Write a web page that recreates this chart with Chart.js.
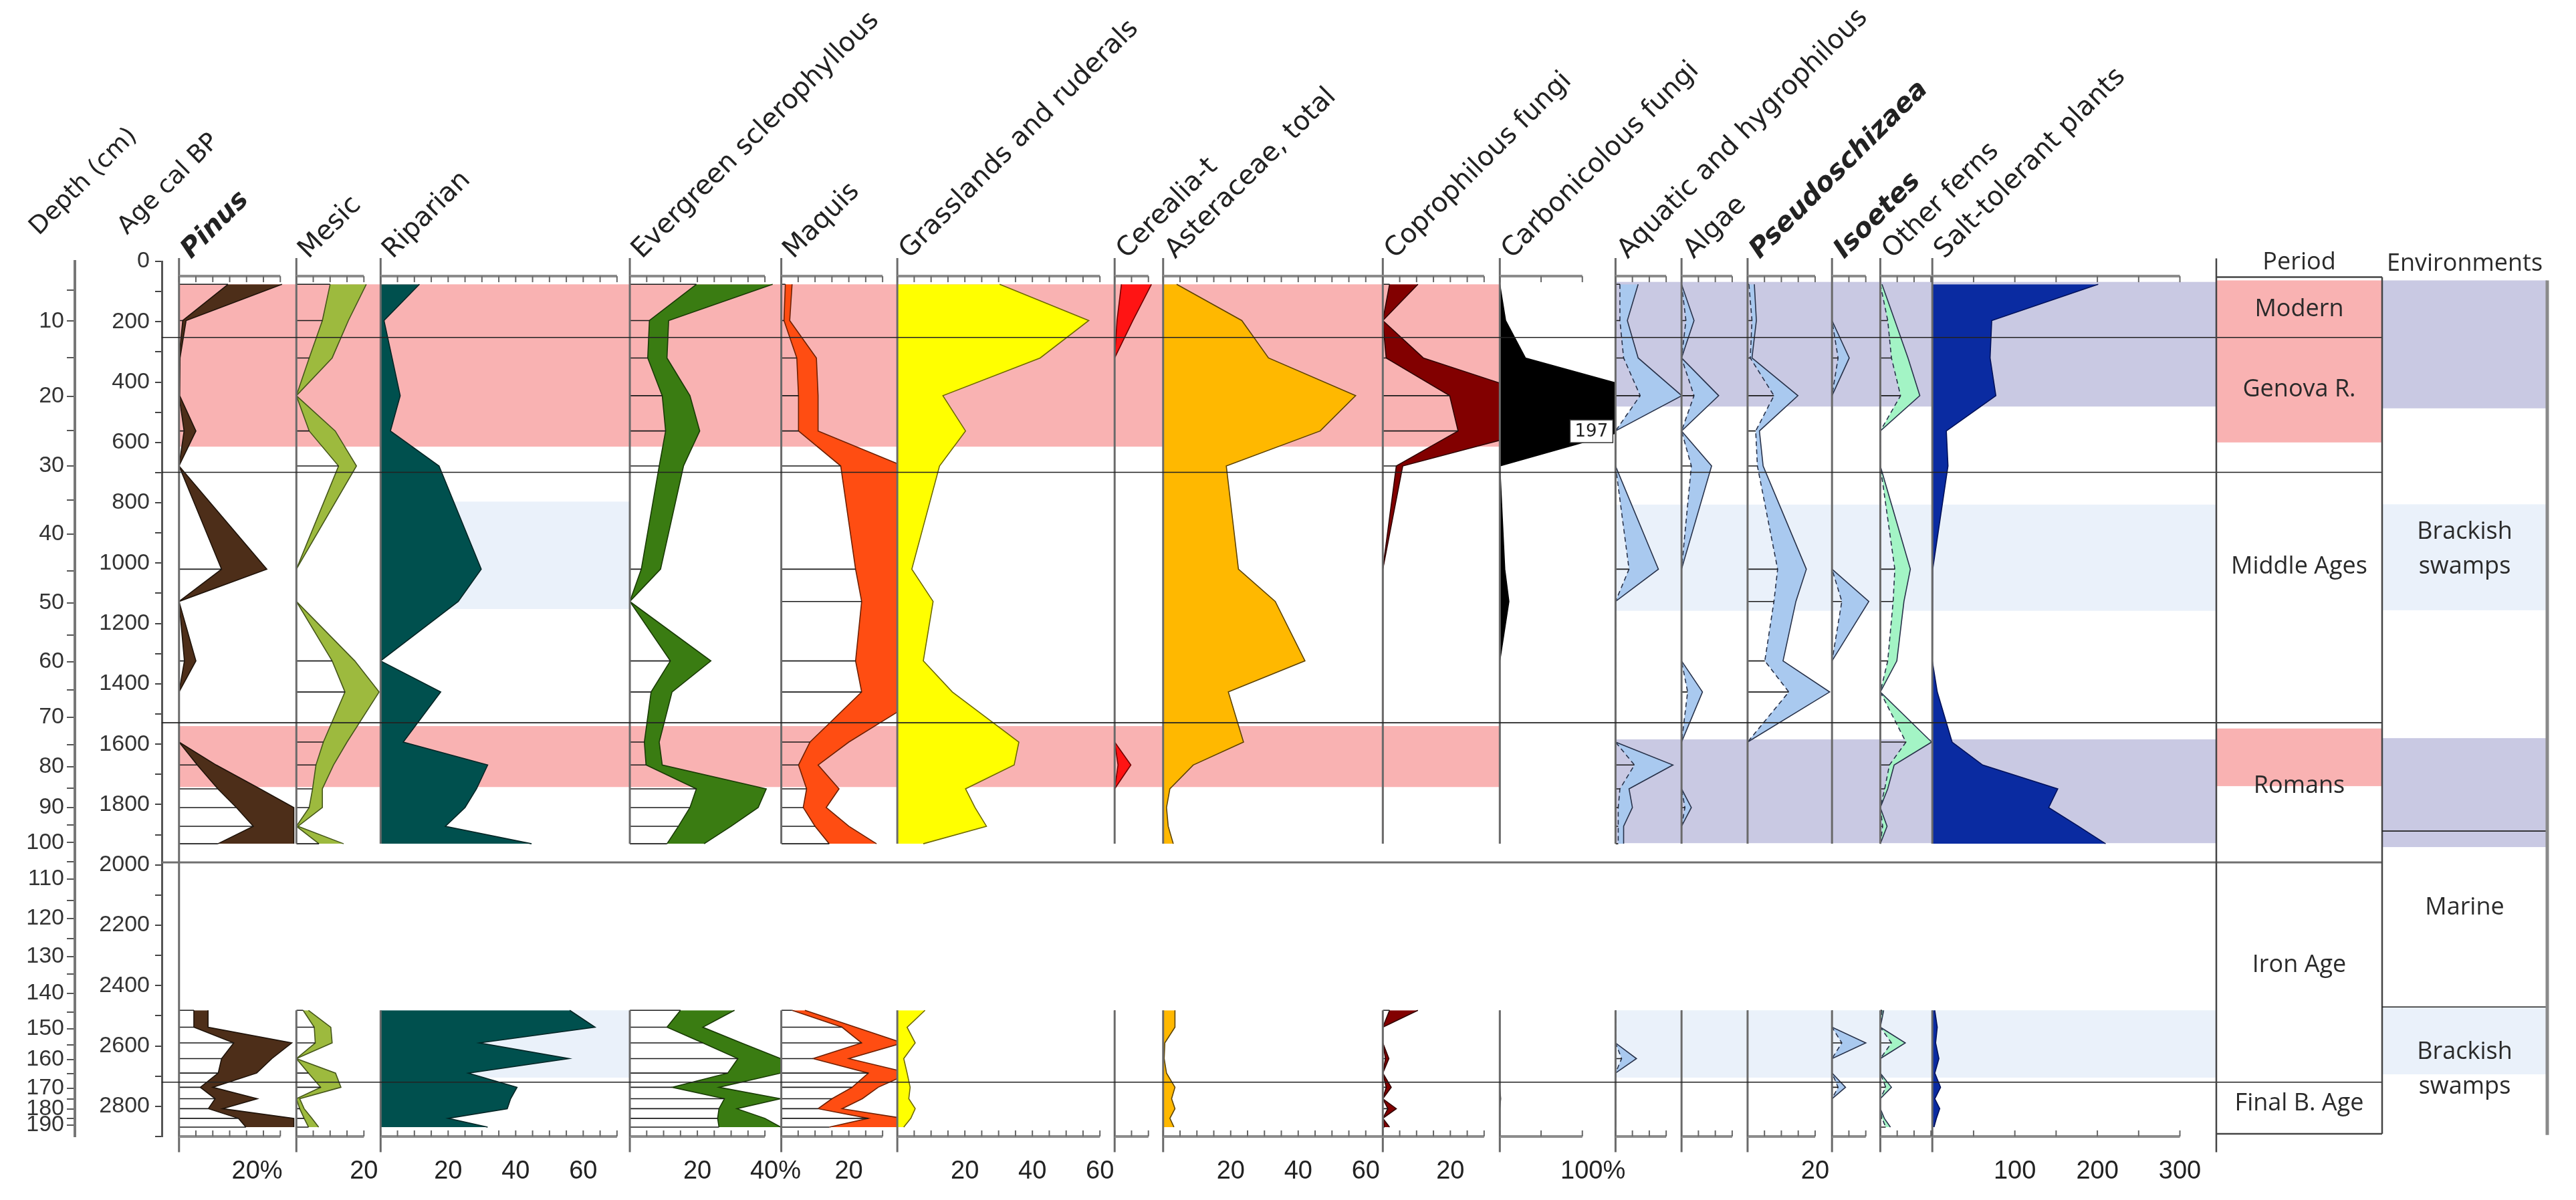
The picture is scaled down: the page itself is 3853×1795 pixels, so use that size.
<!DOCTYPE html>
<html>
<head>
<meta charset="utf-8">
<script src="https://cdn.jsdelivr.net/npm/chart.js@4.4.1/dist/chart.umd.min.js"></script>
<style>
  html, body { margin: 0; padding: 0; background: #fff; }
  #wrap { width: 3853px; height: 1795px; position: relative; }
</style>
</head>
<body>
<div id="wrap"><canvas id="pollen" width="3853" height="1795"></canvas></div>
<script>
// Sample ages (cal BP): upper section, then lower section
const upperAges = [76, 196, 320, 445, 562, 678, 1020, 1127, 1324, 1427, 1593, 1669, 1748, 1810, 1872, 1930];
const lowerAges = [2482, 2538, 2590, 2642, 2690, 2737, 2775, 2808, 2840, 2869];

// Values: 16 upper samples followed by 10 lower samples
const pinusInner = [14.5, 1.1, 0, 0, 1.5, 0, 12.6, 0, 1.6, 0, 0, 5.4, 11.5, 17, 22, 11.5, 4.4, 4.4, 16.2, 12.6, 11.6, 6.3, 10.7, 8.7, 17.6, 19.8];
const pinusOuter = [30.5, 2.1, 0.3, 0.2, 5, 0, 26, 0, 5, 0, 0, 11, 24, 34, 34, 34, 8.6, 8.6, 33.4, 27.5, 23, 10, 23.2, 12.9, 34, 34];
const mesicInner = [10, 7.7, 3.8, 0, 3.8, 12.5, 0, 0, 10.6, 14.4, 8, 5.8, 4.8, 3.8, 0, 6.7, 2, 5.3, 5.6, 0, 3.6, 7.2, 0, 1, 2.3, 3.6];
const mesicOuter = [20.7, 15.4, 10.6, 0, 11.5, 17.8, 0, 0, 17.3, 24.5, 15, 11, 7.7, 7.7, 0.5, 14, 3.6, 10.2, 10.6, 0, 11.6, 13.2, 1, 2.3, 4.6, 6.6];
const riparian = [11.5, 1, 3.4, 5.8, 2.9, 17.3, 29.8, 23, 0, 17.8, 6.7, 31.7, 28.4, 25, 19.2, 44.7, 56, 63.5, 29.3, 55.8, 26, 40.4, 38.5, 37.5, 20, 31.7];
const evergreenInner = [19.7, 5.8, 5.3, 9.6, 10.6, 8.7, 3.4, 0, 12, 6.3, 4.3, 4.8, 19.7, 17.8, 14.4, 11, 15, 11, 21.6, 32, 29, 12.5, 28, 26.4, 26, 26.4];
const evergreenOuter = [42.3, 11.5, 11, 17.8, 20.7, 15.9, 9.1, 0, 24, 12.5, 8.7, 9.6, 40.4, 38, 30, 22, 31, 21.6, 33, 44.7, 44.7, 26.4, 44.7, 31.7, 40, 44.7];
const maquisInner = [1.2, 0.8, 4.6, 5.1, 5.1, 17.6, 22, 23.8, 22, 23.8, 8.5, 5.1, 7.5, 6.5, 10, 14.2, 3.2, 18, 23.8, 9.4, 25.8, 21, 15, 10.9, 25.8, 14.2];
const maquisOuter = [3.2, 2.5, 10.4, 10.9, 10.9, 36, 40, 44, 40, 44, 20, 10.9, 17.1, 13.3, 20, 28.2, 7, 22, 36, 20, 38, 28.7, 24, 18, 36, 40];
const grasslands = [30.3, 56.7, 42.3, 13.5, 20.2, 12.5, 4.3, 10.6, 7.7, 16.3, 36, 34.6, 20.2, 23, 26.4, 7.7, 8.2, 2.9, 5.3, 1.9, 2.9, 3.8, 3.4, 5.3, 4, 1.9];
const cerealiaInner = [2, 0.7, 0, 0, 0, 0, 0, 0, 0, 0, 0, 1, 0, 0, 0, 0, 0, 0, 0, 0, 0, 0, 0, 0, 0, 0];
const cerealiaOuter = [10.9, 5.4, 0, 0, 0, 0, 0, 0, 0, 0, 0, 4.8, 0, 0, 0, 0, 0, 0, 0, 0, 0, 0, 0, 0, 0, 0];
const asteraceae = [4, 23.3, 31.2, 57, 46.5, 18.7, 22.3, 33.2, 42, 19.3, 23.8, 8.9, 2, 1, 1.5, 3, 3.5, 3.5, 0.5, 0.3, 1, 3.5, 2.5, 3.5, 2, 3.2];
const coproInner = [2, 0, 1, 19.8, 22.3, 4, 0, 0, 0, 0, 0, 0, 0, 0, 0, 0, 2, 0, 0, 0.8, 0, 1, 0, 1.5, 0, 0.5];
const coproOuter = [10.4, 0, 12, 46, 45, 5.9, 0, 0, 0, 0, 0, 0, 0, 0, 0, 0, 10.4, 0, 0, 1.8, 0, 2.5, 0, 4, 0, 2];
const carbonicolous = [0, 7, 31, 197, 150, 0, 6, 11, 0, 0, 0, 0, 0, 0, 0, 0, 0, 0, 0, 0, 0, 0, 1, 0, 0, 0];
const aquaticInner = [1.3, 1.3, 2.4, 7.3, 0, 0, 4, 0, 0, 0, 0, 5.6, 1.3, 0.8, 0.8, 0.8, 0, 0, 0, 1.8, 0, 0, 0, 0, 0, 0];
const aquaticOuter = [6.7, 3.5, 6.7, 19.6, 0, 0, 12.7, 0, 0, 0, 0, 17, 4, 5, 2.4, 2.4, 0, 0, 0, 6.2, 0, 0, 0, 0, 0, 0];
const algaeInner = [0, 1.3, 0, 3.7, 0, 2.9, 0, 0, 0, 1.8, 0, 0, 0, 1, 0, 0, 0, 0, 0, 0, 0, 0, 0, 0, 0, 0];
const algaeOuter = [0, 3.7, 0, 11, 0, 8.9, 0, 0, 0, 6.2, 0, 0, 0, 2.9, 0, 0, 0, 0, 0, 0, 0, 0, 0, 0, 0, 0];
const pseudoInner = [0.4, 1.3, 0.8, 7.8, 2.4, 2.9, 8.9, 7.8, 5.1, 12.2, 0, 0, 0, 0, 0, 0, 0, 0, 0, 0, 0, 0, 0, 0, 0, 0];
const pseudoOuter = [2, 2.6, 1.3, 14.9, 3.5, 4.6, 17.4, 14.3, 10.5, 24.3, 0, 0, 0, 0, 0, 0, 0, 0, 0, 0, 0, 0, 0, 0, 0, 0];
const isoetesInner = [0, 0, 1.8, 0, 0, 0, 0, 2.9, 0, 0, 0, 0, 0, 0, 0, 0, 0, 0, 2.9, 0, 0, 1.8, 0, 0, 0, 0];
const isoetesOuter = [0, 0, 5.1, 0, 0, 0, 0, 10.9, 0, 0, 0, 0, 0, 0, 0, 0, 0, 0, 10, 0, 0, 4, 0, 0, 0, 0];
const fernsInner = [0, 2.2, 3.3, 6, 0, 0, 4.3, 3.8, 2.2, 0, 7.6, 2.7, 1.3, 0, 0.7, 0, 0.5, 0, 3.3, 0, 0, 1.6, 0, 0, 0.5, 1.6];
const fernsOuter = [0.5, 4.3, 8.2, 11.7, 0, 0, 8.9, 7, 4.9, 0, 15.2, 4.1, 2.2, 0, 2, 0, 1, 0, 7.4, 0, 0, 3.3, 0, 0, 1.2, 3];
const saltTolerant = [201, 72, 70, 77, 17, 19, 0.5, 0, 0, 6, 24, 61, 152, 141, 177, 210, 3, 6, 4, 8, 3, 10, 3, 9, 5, 2];
const carbonPeak = { text: '197', age: 563 };

// Depth scale (cm) against age
const depthLabels = [10, 20, 30, 40, 50, 60, 70, 80, 90, 100, 110, 120, 130, 140, 150, 160, 170, 180, 190];
const depthAges = [198, 447, 677, 904, 1132, 1326, 1511, 1674, 1809, 1926, 2047, 2177, 2304, 2426, 2543, 2645, 2740, 2809, 2862];
const depthMinorAges = [96, 319, 560, 791, 1025, 1238, 1421, 1602, 1745, 1868, 1989, 2117, 2245, 2362, 2489, 2596, 2691, 2777, 2840];

// Zones
const pinkBands = [[76, 614], [1540, 1742]];
const lavenderBands = [[68, 481], [1584, 1928]];
const paleBlueBands = [[806, 1158], [2482, 2705]];
const riparianBlueBands = [[796, 1152], [2482, 2705]];
const periodBounds = [252, 699, 1529, 1992, 2720];
const periodPink = [[63, 600], [1548, 1739]];
const periodNames = ['Modern', 'Genova R.', 'Middle Ages', 'Romans', 'Iron Age', 'Final B. Age'];
const periodLabelAges = [158, 424, 1011, 1739, 2333, 2790];
const envBounds = [1888, 2471];
const envLavender = [[63, 487], [1580, 1941]];
const envPaleBlue = [[805, 1156], [2471, 2694]];
const envNames = [['Brackish', 'swamps'], ['Marine'], ['Brackish', 'swamps']];
const envLabelAges = [954, 2142, 2677];

const PINK = '#f9b2b2', LAVENDER = '#c9c9e3', PALEBLUE = '#eaf1fa';
const PERIOD_X0 = 3315, PERIOD_X1 = 3563, ENV_X1 = 3810;
const AGE_MAX = 2900, AXIS_END = 2952, RULER_TOP = 49;
const FEW = 0.2444; // carbonicolous and salt-tolerant drawn at a compressed scale

const panels = [
  { id: 'pinus', name: 'Pinus', em: true, max: 34.75, step: 5, labels: { 20: '   20%' }, inner: pinusInner, outer: pinusOuter, color: '#4d2e19', edge: '#1e1209', bars: true },
  { id: 'mesic', name: 'Mesic', max: 24.95, step: 5, labels: { 20: '20' }, inner: mesicInner, outer: mesicOuter, color: '#9dba3e', edge: '#45561a', bars: true },
  { id: 'riparian', name: 'Riparian', max: 73.8, step: 5, labels: { 20: '20', 40: '40', 60: '60' }, outer: riparian, color: '#00504e', edge: '#002424' },
  { id: 'evergreen', name: 'Evergreen sclerophyllous', max: 44.85, step: 5, labels: { 20: '20', 40: '   40%' }, inner: evergreenInner, outer: evergreenOuter, color: '#3a7c12', edge: '#183a05', bars: true },
  { id: 'maquis', name: 'Maquis', max: 34.36, step: 5, labels: { 20: '20' }, inner: maquisInner, outer: maquisOuter, color: '#ff4d12', edge: '#6e2004', bars: true },
  { id: 'grass', name: 'Grasslands and ruderals', max: 64.36, step: 5, labels: { 20: '20', 40: '40', 60: '60' }, outer: grasslands, color: '#ffff00', edge: '#6e6a00' },
  { id: 'cerealia', name: 'Cerealia-t', max: 14.36, step: 5, labels: {}, inner: cerealiaInner, outer: cerealiaOuter, color: '#ff1414', edge: '#700000' },
  { id: 'aster', name: 'Asteraceae, total', max: 65.05, step: 5, labels: { 20: '20', 40: '40', 60: '60' }, outer: asteraceae, color: '#ffb800', edge: '#5e4300' },
  { id: 'copro', name: 'Coprophilous fungi', max: 34.65, step: 5, labels: { 20: '20' }, inner: coproInner, outer: coproOuter, color: '#820000', edge: '#300000', bars: true },
  { id: 'carbon', name: 'Carbonicolous fungi', max: 140.2, step: 50, unit: FEW, labels: { 100: '   100%' }, outer: carbonicolous, color: '#000000', edge: '#000000' },
  { id: 'aquatic', name: 'Aquatic and hygrophilous', max: 19.55, step: 5, labels: {}, inner: aquaticInner, outer: aquaticOuter, color: '#a9c9ef', edge: '#28324a', bars: true, dashed: true },
  { id: 'algae', name: 'Algae', max: 19.56, step: 5, labels: {}, inner: algaeInner, outer: algaeOuter, color: '#a9c9ef', edge: '#28324a', bars: true, dashed: true },
  { id: 'pseudo', name: 'Pseudoschizaea', em: true, max: 25, step: 5, labels: { 20: '20' }, inner: pseudoInner, outer: pseudoOuter, color: '#a9c9ef', edge: '#28324a', bars: true, dashed: true },
  { id: 'isoetes', name: 'Isoetes', em: true, max: 14.3, step: 5, labels: {}, inner: isoetesInner, outer: isoetesOuter, color: '#a9c9ef', edge: '#28324a', bars: true, dashed: true },
  { id: 'ferns', name: 'Other ferns', max: 15.4, step: 5, labels: {}, inner: fernsInner, outer: fernsOuter, color: '#a3f4c5', edge: '#28324a', bars: true, dashed: true },
  { id: 'salt', name: 'Salt-tolerant plants', max: 302.8, step: 50, unit: FEW, labels: { 100: '100', 200: '200', 300: '300' }, outer: saltTolerant, color: '#0a2ba1', edge: '#00105a' }
];

// Build datasets, one group per panel and core section
const datasets = [];
panels.forEach(p => {
  [upperAges, lowerAges].forEach((ages, part) => {
    const off = part ? upperAges.length : 0;
    const pts = vals => ages.map((a, i) => ({ x: vals[off + i], y: a }));
    const base = { xAxisID: p.id, yAxisID: 'y', pointRadius: 0, pointHitRadius: 0, tension: 0, borderWidth: 1.6 };
    if (p.bars) {
      const seg = [];
      ages.forEach((a, i) => {
        const v = p.inner[off + i];
        if (v > 0) seg.push({ x: 0, y: a }, { x: v, y: a }, { x: null, y: null });
      });
      datasets.push({ ...base, data: seg, borderColor: '#1a1a1a', borderWidth: 1.6, fill: false, spanGaps: false });
    }
    if (p.inner) {
      datasets.push({ ...base, data: pts(p.inner), borderColor: p.edge, borderDash: p.dashed ? [7, 5] : [], fill: false });
      datasets.push({ ...base, data: pts(p.outer), borderColor: p.edge, backgroundColor: p.color, fill: '-1' });
    } else {
      datasets.push({ ...base, data: pts(p.outer), borderColor: p.edge, backgroundColor: p.color, fill: 'origin' });
    }
  });
});

// Scales
const tickFont = { family: 'Liberation Sans', size: 38 };
const scales = {
  depth: {
    type: 'linear', axis: 'y', position: 'left', reverse: true, min: 0, max: AGE_MAX, weight: 2,
    afterFit(s) { s.width = 112; },
    afterBuildTicks(s) {
      const list = depthAges.map((a, i) => ({ value: a, label: String(depthLabels[i]) }))
        .concat(depthMinorAges.map(a => ({ value: a, label: '' })))
        .sort((a, b) => a.value - b.value);
      s.ticks = list.map(t => ({ value: t.value }));
      s._depthLabels = list.map(t => t.label);
    },
    border: { display: true, color: '#777', width: 4 },
    grid: { drawOnChartArea: false, tickLength: 12, color: '#555', lineWidth: 2 },
    ticks: { autoSkip: false, padding: 4, color: '#333', font: { family: 'Liberation Sans', size: 34 },
      callback(v, i) { return this._depthLabels ? this._depthLabels[i] : ''; } }
  },
  y: {
    type: 'linear', axis: 'y', position: 'left', reverse: true, min: 0, max: AGE_MAX, weight: 1,
    afterFit(s) { s.width = 130; },
    border: { display: true, color: '#555', width: 3 },
    grid: { drawOnChartArea: false, tickLength: 10, color: '#444', lineWidth: 2 },
    ticks: { stepSize: 100, autoSkip: false, includeBounds: false, padding: 8, color: '#333',
      font: { family: 'Liberation Sans', size: 34 }, callback: v => (v % 200 === 0 ? String(v) : '') }
  },
  xsp: { type: 'linear', axis: 'x', position: 'bottom', stack: 'panels', stackWeight: 5.1, display: false, min: 0, max: 1 }
};
panels.forEach(p => {
  scales[p.id] = {
    type: 'linear', axis: 'x', position: 'bottom', stack: 'panels',
    stackWeight: p.max * (p.unit || 1), min: 0, max: p.max,
    afterFit(s) { s.height = 101; },
    border: { display: false },
    grid: { display: false, drawTicks: false },
    ticks: { stepSize: p.step, autoSkip: false, includeBounds: false, maxRotation: 0, minRotation: 0,
      padding: 30, color: '#222', font: tickFont, callback: v => p.labels[v] || '' }
  };
});

// Clip every dataset (fill included) to its own panel
const panelClip = {
  id: 'panelClip',
  beforeDatasetDraw(chart, args) {
    const m = args.meta, ctx = chart.ctx;
    ctx.save();
    ctx.beginPath();
    ctx.rect(m.xScale.left - 2, chart.chartArea.top - 20, m.xScale.width + 2, chart.chartArea.height + 40);
    ctx.clip();
  },
  afterDatasetDraw(chart) { chart.ctx.restore(); }
};
try {
  const filler = Chart.registry.getPlugin('filler');
  Chart.unregister(filler);
  Chart.register(panelClip);
  Chart.register(filler);
} catch (e) {
  Chart.register(panelClip);
}

function line(ctx, x0, y0, x1, y1) {
  ctx.beginPath(); ctx.moveTo(x0, y0); ctx.lineTo(x1, y1); ctx.stroke();
}

function slanted(ctx, text, x, y, font) {
  ctx.save();
  ctx.translate(x, y);
  ctx.rotate(-Math.PI / 4);
  ctx.font = font;
  ctx.fillStyle = '#222';
  ctx.textAlign = 'left';
  ctx.textBaseline = 'alphabetic';
  ctx.fillText(text, 0, 0);
  ctx.restore();
}

const decor = {
  id: 'decor',
  beforeDatasetsDraw(chart) {
    const ctx = chart.ctx, S = chart.scales, y = S.y;
    const band = (x0, x1, a0, a1, color) => {
      const t = y.getPixelForValue(a0), b = y.getPixelForValue(a1);
      ctx.fillStyle = color;
      ctx.fillRect(x0, t, x1 - x0, b - t);
    };
    pinkBands.forEach(([a0, a1]) => band(S.pinus.left, S.carbon.left, a0, a1, PINK));
    riparianBlueBands.forEach(([a0, a1]) => band(S.riparian.left, S.riparian.right, a0, a1, PALEBLUE));
    lavenderBands.forEach(([a0, a1]) => band(S.aquatic.left, PERIOD_X0, a0, a1, LAVENDER));
    paleBlueBands.forEach(([a0, a1]) => band(S.aquatic.left, PERIOD_X0, a0, a1, PALEBLUE));
    periodPink.forEach(([a0, a1]) => band(PERIOD_X0, PERIOD_X1, a0, a1, PINK));
    envLavender.forEach(([a0, a1]) => band(PERIOD_X1, ENV_X1, a0, a1, LAVENDER));
    envPaleBlue.forEach(([a0, a1]) => band(PERIOD_X1, ENV_X1, a0, a1, PALEBLUE));
  },
  afterDatasetsDraw(chart) {
    const ctx = chart.ctx, S = chart.scales, y = S.y;
    const Y = a => y.getPixelForValue(a);
    const yTop = Y(RULER_TOP), yBot = chart.chartArea.bottom;
    ctx.save();
    ctx.lineCap = 'butt';

    // panel axes
    panels.forEach((p, i) => {
      const x = S[p.id].left;
      ctx.strokeStyle = '#6a6a6a';
      ctx.lineWidth = 3;
      if (i === 0) {
        line(ctx, x, Y(-11), x, Y(AXIS_END));
      } else {
        line(ctx, x, Y(-11), x, Y(upperAges[upperAges.length - 1]));
        line(ctx, x, Y(lowerAges[0]), x, Y(AXIS_END));
      }
    });

    // rulers top and bottom
    panels.forEach(p => {
      const s = S[p.id];
      const tks = s.ticks.map(t => t.value).filter(v => v < p.max - 1e-6);
      const x0 = s.getPixelForValue(0), x1 = s.getPixelForValue(tks[tks.length - 1]);
      [[yTop, 1], [yBot, -1]].forEach(([yy, dir]) => {
        ctx.strokeStyle = '#8c8c8c';
        ctx.lineWidth = 4;
        line(ctx, x0, yy, x1, yy);
        ctx.lineWidth = 2;
        ctx.strokeStyle = '#666';
        tks.forEach(v => { const x = s.getPixelForValue(v); line(ctx, x, yy, x, yy + dir * 9); });
      });
    });

    // period boundaries
    periodBounds.forEach(a => {
      ctx.strokeStyle = a === 1992 ? '#707070' : '#222';
      ctx.lineWidth = a === 1992 ? 3 : 1.6;
      line(ctx, y.right, Y(a), PERIOD_X1, Y(a));
    });

    // period column
    ctx.strokeStyle = '#444';
    ctx.lineWidth = 2.5;
    line(ctx, PERIOD_X0, Y(-10), PERIOD_X0, Y(AXIS_END));
    line(ctx, PERIOD_X1, Y(52), PERIOD_X1, Y(2891));
    line(ctx, PERIOD_X0, Y(52), PERIOD_X1, Y(52));
    line(ctx, PERIOD_X0, Y(2891), PERIOD_X1, Y(2891));
    ctx.lineWidth = 1.6;
    ctx.strokeStyle = '#222';
    envBounds.forEach(a => line(ctx, PERIOD_X1, Y(a), ENV_X1, Y(a)));
    ctx.strokeStyle = '#8a8a8a';
    ctx.lineWidth = 5;
    line(ctx, ENV_X1, Y(63), ENV_X1, Y(2895));

    ctx.fillStyle = '#2a2a2a';
    ctx.textAlign = 'center';
    ctx.textBaseline = 'middle';
    ctx.font = '36px "Open Sans"';
    const pc = (PERIOD_X0 + PERIOD_X1) / 2, ec = (PERIOD_X1 + ENV_X1) / 2;
    periodNames.forEach((n, i) => ctx.fillText(n, pc, Y(periodLabelAges[i])));
    envNames.forEach((lines, i) => {
      lines.forEach((t, k) => ctx.fillText(t, ec, Y(envLabelAges[i]) + (k - (lines.length - 1) / 2) * 52));
    });
    ctx.fillText('Period', pc, 393);
    ctx.fillText('Environments', ec, 395);

    // clipped carbonicolous peak value
    const by = Y(carbonPeak.age), bx1 = S.carbon.right - 4, bx0 = bx1 - 64;
    ctx.fillStyle = '#fff';
    ctx.fillRect(bx0, by - 17, 64, 34);
    ctx.strokeStyle = '#333';
    ctx.lineWidth = 1.5;
    ctx.strokeRect(bx0, by - 17, 64, 34);
    ctx.fillStyle = '#222';
    ctx.font = '26px "DejaVu Sans"';
    ctx.fillText(carbonPeak.text, (bx0 + bx1) / 2, by + 1);

    // slanted headers
    slanted(ctx, 'Depth (cm)', 58, 353, '37px "DejaVu Sans"');
    slanted(ctx, 'Age cal BP', 190, 352, '37px "DejaVu Sans"');
    panels.forEach(p => {
      const font = p.em ? 'italic bold 40px "DejaVu Sans"' : '40px "DejaVu Sans"';
      slanted(ctx, p.name, S[p.id].left + 18, 388, font);
    });
    ctx.restore();
  }
};

new Chart(document.getElementById('pollen'), {
  type: 'line',
  data: { datasets },
  options: {
    indexAxis: 'y',
    responsive: false,
    devicePixelRatio: 1,
    animation: false,
    events: [],
    layout: { padding: { top: 391, right: 589, bottom: 0, left: 0 } },
    scales,
    plugins: { legend: { display: false }, tooltip: { enabled: false } }
  },
  plugins: [decor]
});
</script>
</body>
</html>
